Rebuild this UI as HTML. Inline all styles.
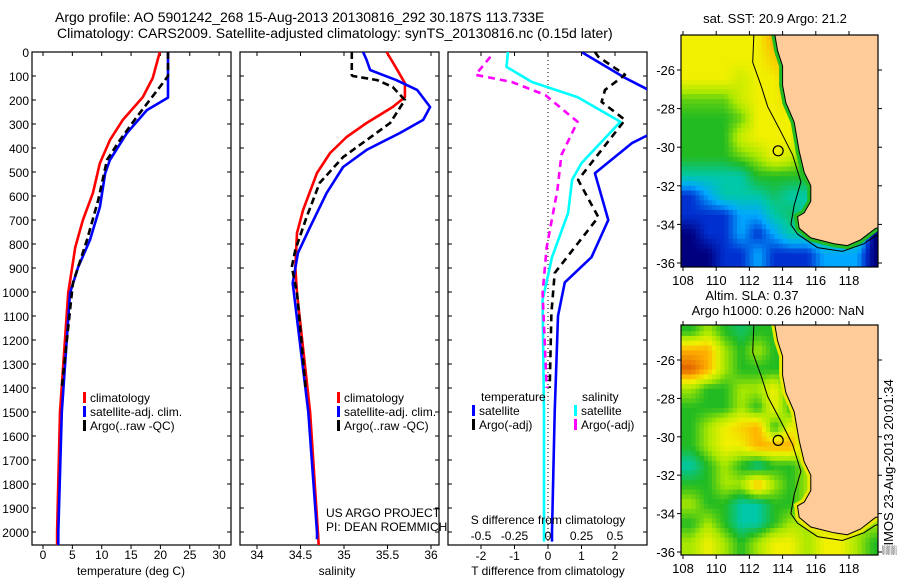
<!DOCTYPE html>
<html><head><meta charset="utf-8">
<style>
body{margin:0;background:#fff;}
svg{display:block;font-family:"Liberation Sans",sans-serif;}
text{fill:#000;}
</style></head>
<body>
<svg id="chart" width="900" height="580" viewBox="0 0 900 580" xmlns="http://www.w3.org/2000/svg">
<defs>
<clipPath id="cp1"><rect x="32" y="52" width="199" height="493"/></clipPath>
<clipPath id="cp2"><rect x="240" y="52" width="199" height="493"/></clipPath>
<clipPath id="cp3"><rect x="448" y="52" width="199" height="493"/></clipPath>
<clipPath id="cpm1"><rect x="681" y="35" width="197" height="232"/></clipPath>
<clipPath id="cpm2"><rect x="681" y="325" width="197" height="230"/></clipPath>
</defs>
<text x="55" y="22" font-size="14">Argo profile: AO 5901242_268 15-Aug-2013 20130816_292 30.187S 113.733E</text>
<text x="57" y="38" font-size="14">Climatology: CARS2009. Satellite-adjusted climatology: synTS_20130816.nc (0.15d later)</text>
<g id="g"></g>
</svg>
<script>
// ---- profile data (depth in m) ----
const tClimDepth=[0,108,188,283,367,463,588,700,813,1004,1500,2000,2060];
const tClimVal=[19.9,18.7,17.0,13.6,11.4,9.7,8.5,6.8,5.5,4.3,2.9,2.4,2.4];
const tSatDepth=[0,190,242,338,450,505,646,783,896,1004,1500,2000,2060];
const tSatVal=[21.3,21.3,17.7,14.3,11.4,10.6,9.7,8.0,6.0,4.6,3.2,2.6,2.6];
const tArgoDepth=[0,100,130,200,270,367,450,617,783,963,1400];
const tArgoVal=[21.3,21.3,20.4,18.2,16.0,13.1,10.9,9.4,7.5,5.1,3.2];
const sClimDepth=[0,67,130,188,229,296,354,421,504,658,754,896,1004,1500,2000,2060];
const sClimVal=[35.49,35.6,35.7,35.7,35.56,35.26,35.03,34.84,34.69,34.53,34.46,34.44,34.46,34.61,34.7,34.71];
const sSatDepth=[0,33,75,117,158,229,283,338,408,479,588,729,838,963,1500,2000,2030];
const sSatVal=[35.22,35.26,35.3,35.6,35.84,35.99,35.91,35.64,35.26,34.99,34.8,34.61,34.47,34.41,34.59,34.69,34.69];
const sArgoDepth=[0,96,100,117,146,200,296,367,438,546,688,825,896,1004,1400];
const sArgoVal=[35.09,35.09,35.1,35.38,35.56,35.7,35.53,35.26,34.99,34.72,34.57,34.44,34.40,34.46,34.56];
const dtSatDepth=[0,108,158,200,250,300,345,380,505,700,855,960,1100,1500,2000,2040];
const dtSatVal=[1.0,2.3,3.0,3.5,3.8,3.3,3.0,2.5,1.4,1.8,1.3,0.5,0.3,0.2,0.12,0.12];
const dtArgoDepth=[0,20,95,158,208,283,408,533,688,796,921,1088,1400];
const dtArgoVal=[1.4,1.5,2.3,1.7,1.6,2.3,1.6,0.9,1.5,0.9,0.2,0.1,0.05];
const dsSatDepth=[0,5,62,125,188,291,463,533,671,855,1033,1500,2000,2040];
const dsSatVal=[-0.3,-0.3,-0.31,-0.12,0.22,0.54,0.25,0.18,0.15,0.03,-0.04,-0.03,-0.03,-0.03];
const dsArgoDepth=[20,95,125,179,291,429,575,813,1004,1400];
const dsArgoVal=[-0.43,-0.54,-0.27,-0.02,0.22,0.1,0.07,-0.01,-0.04,-0.01];
// ---- axis ticks ----
const depthTicks=[0,100,200,300,400,500,600,700,800,900,1000,1100,1200,1300,1400,1500,1600,1700,1800,1900,2000];
const tempTicks=[0,5,10,15,20,25,30];
const salTicks=[34,34.5,35,35.5,36];
const dtTicks=[-2,-1,0,1,2];
const dsTicks=[-0.5,-0.25,0,0.25,0.5];
const latTicks=[-26,-28,-30,-32,-34,-36];
const lonTicks=[108,110,112,114,116,118];
// ---- map data: 1-degree cells, rows lat -24.5..-35.5, cols lon 108.5..119.5 (colour index) ----
const sstGrid=[
[6,6,6,6,6,7,7,6,6,6,6,6],
[6,6,6,6,6,6.5,7,4,4,4,4,4],
[6,6,6,5.5,6,6,7,6,4,4,4,4],
[4.5,4.5,4.5,5.5,6,6,6.5,6,4,4,4,4],
[4,4,4,4.5,6,6,6,5,4,4,4,4],
[4,4,4,5.5,6,6,6,5,4,4,4,4],
[4,4,4,4.5,5,6,5.5,4,4,4,4,4],
[3,3,3,3,4,4,4,4,4,4,4,4],
[1,2,3,3,3,3.5,3,3,3,3,3,3],
[1,1,1,2,2,3,3.5,3,3,3,3,3],
[0,1,1,2,1,2,3,3,4,4,4,0],
[0,0,1,1,2,1,1,1,2,2,2,0]];
const slaGrid=[
[4,5,4,3.5,4,4,5,5,5,5,5,5],
[7,7,5,4,5,4,4,5,5,5,5,5],
[8,7,5,4,4,4,4,5,5,5,5,5],
[5,4,4,5,5,6,4,5,5,5,5,5],
[4,4,4,5,4,6,4,5,5,5,5,5],
[4,5,6,6.5,7,4,6,5,5,5,5,5],
[4,5,6,6,7,7,7,5,5,5,5,5],
[3,4,5,4,3,4,4,5,5,5,5,5],
[4,4,5,5,7,5,4,5,5,5,5,5],
[5,4,4,3,3,4,4,5,5,5,5,5],
[4,5,4,3,3,4,5,5,6,6,5,5],
[5,6,5,4,5,6,6,5,6,6,5,4]];
const landLon=[113.4,113.7,114.0,114.0,114.2,114.7,115.0,115.3,115.7,115.7,115.3,114.9,115.0,115.7,117.1,117.9,118.7,119.6,121,121];
const landLat=[-23.5,-25.0,-25.8,-26.8,-27.7,-28.7,-30.2,-31.3,-32.0,-32.8,-33.4,-33.6,-34.2,-34.7,-35.0,-35.1,-34.8,-34.2,-34.0,-23.5];
const isoLon=[112.3,112.2,112.7,113.1,113.9,114.6,115.1,114.7,114.5,114.9,116.1,117.6,118.9,119.6,121];
const isoLat=[-23.5,-25.6,-26.8,-27.9,-29.2,-30.4,-31.8,-33.0,-34.0,-34.5,-35.2,-35.4,-35.0,-34.6,-34.4];
const argoLon=113.733, argoLat=-30.187;
const palette=[[0,0,127],[0,48,208],[0,168,255],[0,200,168],[34,187,34],[168,232,0],[240,240,0],[255,176,0],[224,96,0]];

const NS='http://www.w3.org/2000/svg';
const G=document.getElementById('g');
function mk(tag,at,parent){const e=document.createElementNS(NS,tag);for(const k in at)e.setAttribute(k,at[k]);(parent||G).appendChild(e);return e;}
function txt(x,y,s,size,anchor,parent){const e=mk('text',{x:x,y:y,'font-size':size,'text-anchor':anchor||'start'},parent);e.textContent=s;return e;}
const yD=d=>52+d*0.24;
const xT=v=>43+v*5.87;
const xS=v=>257+(v-34)*87;
const xDT=v=>548+v*33.5;
const xDS=v=>548+v*134;

function frame(x0,name){
  const r=mk('rect',{x:x0,y:52,width:199,height:493,fill:'none',stroke:'#000','stroke-width':1.2});
  
  
  depthTicks.forEach(d=>{
    mk('line',{x1:x0,x2:x0+4,y1:yD(d),y2:yD(d),stroke:'#000'});
    mk('line',{x1:x0+195,x2:x0+199,y1:yD(d),y2:yD(d),stroke:'#000'});
  });
}
function xticks(vals,fx,x0,yLab){
  vals.forEach(v=>{const x=fx(v);
    mk('line',{x1:x,x2:x,y1:52,y2:56,stroke:'#000'});
    mk('line',{x1:x,x2:x,y1:545,y2:549,stroke:'#000'});
    const t=txt(x,yLab,String(v),12,'middle');
    
    
  });
}
function line(depths,vals,fx,color,dash,clip,name){
  const pts=depths.map((d,i)=>fx(vals[i]).toFixed(1)+','+yD(d).toFixed(1)).join(' ');
  const at={points:pts,fill:'none',stroke:color,'stroke-width':2.6,'clip-path':'url(#'+clip+')','stroke-linejoin':'round'};
  if(dash)at['stroke-dasharray']=dash;
  const p=mk('polyline',at);
  
  
}
function legend(x,y,color,label){
  const b=mk('rect',{x:x,y:y-10,width:3,height:11,fill:color});
  
  
  const t=txt(x+7,y,label,12);
  
  
}
// panel 1
frame(32,'temperature-panel');
depthTicks.forEach(d=>{const t=txt(29,yD(d)+5,String(d),12,'end');
  
  });
xticks(tempTicks,xT,32,559);
let tt=txt(131,575,'temperature (deg C)',12,'middle');


line(tClimDepth,tClimVal,xT,'#ff0000',null,'cp1','temp-climatology-line');
line(tSatDepth,tSatVal,xT,'#0000ff',null,'cp1','temp-satellite-line');
line(tArgoDepth,tArgoVal,xT,'#000000','7,4','cp1','temp-argo-line');
legend(83,402,'#ff0000','climatology');
legend(83,416,'#0000ff','satellite-adj. clim.');
legend(83,430,'#000000','Argo(..raw -QC)');
// panel 2
frame(240,'salinity-panel');
xticks(salTicks,xS,240,559);
tt=txt(337,575,'salinity',12,'middle');


line(sClimDepth,sClimVal,xS,'#ff0000',null,'cp2','sal-climatology-line');
line(sSatDepth,sSatVal,xS,'#0000ff',null,'cp2','sal-satellite-line');
line(sArgoDepth,sArgoVal,xS,'#000000','7,4','cp2','sal-argo-line');
legend(337,402,'#ff0000','climatology');
legend(337,416,'#0000ff','satellite-adj. clim.');
legend(337,430,'#000000','Argo(..raw -QC)');
tt=txt(326,517,'US ARGO PROJECT',12);


tt=txt(326,531,'PI: DEAN ROEMMICH',12);


// panel 3
frame(448,'difference-panel');
mk('line',{x1:548,x2:548,y1:52,y2:545,stroke:'#000','stroke-dasharray':'1,3'});
line(dtSatDepth,dtSatVal,xDT,'#0000ff',null,'cp3','dT-satellite-line');
line(dtArgoDepth,dtArgoVal,xDT,'#000000','7,5','cp3','dT-argo-line');
line(dsSatDepth,dsSatVal,xDS,'#00ffff',null,'cp3','dS-satellite-line');
line(dsArgoDepth,dsArgoVal,xDS,'#ff00ff','7,5','cp3','dS-argo-line');
xticks(dtTicks,xDT,448,560);
dsTicks.forEach(v=>{const t=txt(xDS(v),540,String(v),12,'middle');
  
  });
tt=txt(548,524,'S difference from climatology',12,'middle');


tt=txt(548,575,'T difference from climatology',12,'middle');


tt=txt(481,401,'temperature',12);


tt=txt(582,401,'salinity',12);


legend(472,415,'#0000ff','satellite');
legend(472,429,'#000000','Argo(-adj)');
legend(574,415,'#00ffff','satellite');
legend(574,429,'#ff00ff','Argo(-adj)');

// maps
function colorAt(v){
  v=Math.max(0,Math.min(palette.length-1,v));
  const i=Math.min(palette.length-2,Math.floor(v)),f=v-i,a=palette[i],b=palette[i+1];
  return 'rgb('+a.map((c,k)=>Math.round(c+(b[k]-c)*f)).join(',')+')';
}
function sample(grid,lon,lat){
  let c=Math.max(0,Math.min(11,lon-108.5)), r=Math.max(0,Math.min(11,-24.5-lat));
  const c0=Math.min(10,Math.floor(c)), r0=Math.min(10,Math.floor(r)), fc=c-c0, fr=r-r0;
  const v00=grid[r0][c0],v01=grid[r0][c0+1],v10=grid[r0+1][c0],v11=grid[r0+1][c0+1];
  return (v00*(1-fc)+v01*fc)*(1-fr)+(v10*(1-fc)+v11*fc)*fr;
}
function map(y0,h,latTopY,grid,clip,band,name){
  const sc=(name==='sst-map')?19.3:19.2;
  const yL=lat=>latTopY+(-26-lat)*sc;
  const xL=lon=>683+(lon-108)*16.6;
  const grp=mk('g',{'clip-path':'url(#'+clip+')'});
  
  
  const step=0.25;
  for(let lat=-24;lat>-36.5;lat-=step){
    for(let lon=107.75;lon<120;lon+=step){
      const v=sample(grid,lon+step/2,lat-step/2);
      const cell=mk('rect',{x:xL(lon).toFixed(1),y:yL(lat).toFixed(1),width:(step*16.6+0.6).toFixed(1),height:(step*sc+0.6).toFixed(1),fill:colorAt(v)},grp);
      
      
    }
  }
  const lp=landLon.map((l,i)=>xL(l).toFixed(1)+','+yL(landLat[i]).toFixed(1)).join(' ');
  mk('polyline',{points:lp,fill:'none',stroke:band,'stroke-width':7},grp);
  const land=mk('polygon',{points:lp,fill:'#ffcc99',stroke:'#000','stroke-width':1},grp);
  
  
  const ip=isoLon.map((l,i)=>xL(l).toFixed(1)+','+yL(isoLat[i]).toFixed(1)).join(' ');
  mk('polyline',{points:ip,fill:'none',stroke:'#000','stroke-width':1},grp);
  const c=mk('circle',{cx:xL(argoLon),cy:yL(argoLat),r:5,fill:'none',stroke:'#000','stroke-width':1.2},grp);
  
  
  mk('rect',{x:681,y:y0,width:197,height:h,fill:'none',stroke:'#000','stroke-width':1.2});
  latTicks.forEach(l=>{const y=yL(l);
    mk('line',{x1:677,x2:681,y1:y,y2:y,stroke:'#000'});
    mk('line',{x1:878,x2:882,y1:y,y2:y,stroke:'#000'});
    const t=txt(675,y+5,String(l),13,'end');
    
    });
  lonTicks.forEach(l=>{const x=xL(l);
    mk('line',{x1:x,x2:x,y1:y0+h,y2:y0+h+4,stroke:'#000'});
    mk('line',{x1:x,x2:x,y1:y0-4,y2:y0,stroke:'#000'});
    const t=txt(x,y0+h+18,String(l),13,'middle');
    
    });
}
map(35,232,70,sstGrid,'cpm1','#22bb22','sst-map');
map(325,230,360,slaGrid,'cpm2','#e8e800','sla-map');
tt=txt(775,23,'sat. SST: 20.9 Argo: 21.2',13,'middle');


tt=txt(752,300,'Altim. SLA: 0.37',13,'middle');


tt=txt(778,315,'Argo h1000: 0.26 h2000: NaN',13,'middle');


tt=txt(0,0,'\u2592IMOS 23-Aug-2013 20:01:34',13,'middle');
tt.setAttribute('transform','translate(893,467) rotate(-90)');


</script>
</body></html>
